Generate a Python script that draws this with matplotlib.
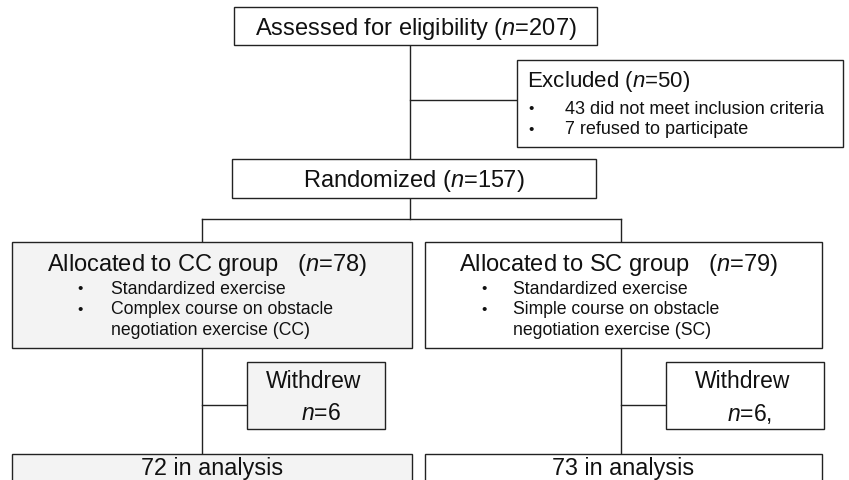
import matplotlib.pyplot as plt
from matplotlib.patches import Rectangle

plt.rcParams['font.family'] = ['Liberation Sans', 'DejaVu Sans']
plt.rcParams['mathtext.fontset'] = 'custom'
plt.rcParams['mathtext.rm'] = 'Liberation Sans'
plt.rcParams['mathtext.it'] = 'Liberation Sans:italic'

# --- Flow counts ---
assessed_n = 207
excluded_n = 50
excluded_reasons = ["43 did not meet inclusion criteria", "7 refused to participate"]
randomized_n = 157
group_names = ["CC", "SC"]
group_n = [78, 79]
group_items = [
    ["Standardized exercise", "Complex course on obstacle", "negotiation exercise (CC)"],
    ["Standardized exercise", "Simple course on obstacle", "negotiation exercise (SC)"],
]
withdrew_n = [6, 6]
analysis_n = [72, 73]

N = r"$\it{n}$"
LINE = '#222222'
TXT = '#111111'


def box(ax, x0, y0, x1, y1, fill='white'):
    ax.add_patch(Rectangle((x0, y0), x1 - x0, y1 - y0, facecolor=fill,
                           edgecolor=LINE, linewidth=1.0, zorder=2))


def line(ax, xs, ys):
    ax.plot(xs, ys, color=LINE, linewidth=1.0, zorder=1)


fig = plt.figure(figsize=(8.49, 4.81), dpi=100)
ax = fig.add_axes([0, 0, 1, 1])
ax.set_xlim(0, 849)
ax.set_ylim(481, 0)
ax.axis('off')

# top column
line(ax, [410, 410], [46, 160])
line(ax, [410, 517], [101, 101])
line(ax, [410, 410], [199, 220])
line(ax, [202, 621], [220, 220])
line(ax, [202, 202], [220, 243])
line(ax, [621, 621], [220, 243])

box(ax, 234, 8, 597, 46)
ax.text(416, 28.5, f"Assessed for eligibility ({N}={assessed_n})", fontsize=17,
        ha='center', va='center', color=TXT, zorder=3)

box(ax, 517, 61, 843, 148)
ax.text(527, 82, f"Excluded ({N}={excluded_n})", fontsize=16, ha='left', va='center',
        color=TXT, zorder=3)
for i, reason in enumerate(excluded_reasons):
    y = 109 + i * 21
    ax.text(528, y, "•", fontsize=11, ha='left', va='center', color=TXT, zorder=3)
    ax.text(565, y, reason, fontsize=13, ha='left', va='center', color=TXT, zorder=3)

box(ax, 232, 160, 596, 199)
ax.text(414, 181, f"Randomized ({N}={randomized_n})", fontsize=17,
        ha='center', va='center', color=TXT, zorder=3)

# group columns
cols = [
    dict(x0=12, x1=412, cx=202, wx0=247, wx1=385, fill='#f3f3f3', bx=77, tx=111),
    dict(x0=425, x1=822, cx=621, wx0=666, wx1=824, fill='white', bx=481, tx=513),
]
for k, c in enumerate(cols):
    line(ax, [c['cx'], c['cx']], [349, 455])
    line(ax, [c['cx'], c['wx0']], [406, 406])

    box(ax, c['x0'], 243, c['x1'], 349, fill=c['fill'])
    mid = (c['x0'] + c['x1']) / 2
    ax.text(mid - 5, 265, f"Allocated to {group_names[k]} group   ({N}={group_n[k]})",
            fontsize=17, ha='center', va='center', color=TXT, zorder=3)
    for j, item in enumerate(group_items[k]):
        y = 289.5 + j * 20.5
        if j < 2:
            ax.text(c['bx'], y, "•", fontsize=11, ha='left', va='center', color=TXT, zorder=3)
        ax.text(c['tx'], y, item, fontsize=12.7, ha='left', va='center', color=TXT, zorder=3)

    box(ax, c['wx0'], 363, c['wx1'], 430, fill=c['fill'])
    wmid = (c['wx0'] + c['wx1']) / 2
    ax.text(wmid - 2, 382, "Withdrew", fontsize=16.5, ha='center', va='center', color=TXT, zorder=3)
    ax.text(wmid + 5, 414, f"{N}={withdrew_n[k]}" + ("," if k == 1 else ""), fontsize=16.5,
            ha='center', va='center', color=TXT, zorder=3)

    box(ax, c['x0'], 455, c['x1'], 495, fill=c['fill'])
    ax.text(mid, 469, f"{analysis_n[k]} in analysis", fontsize=16.8,
            ha='center', va='center', color=TXT, zorder=3)

fig.savefig('out.png', dpi=100)
